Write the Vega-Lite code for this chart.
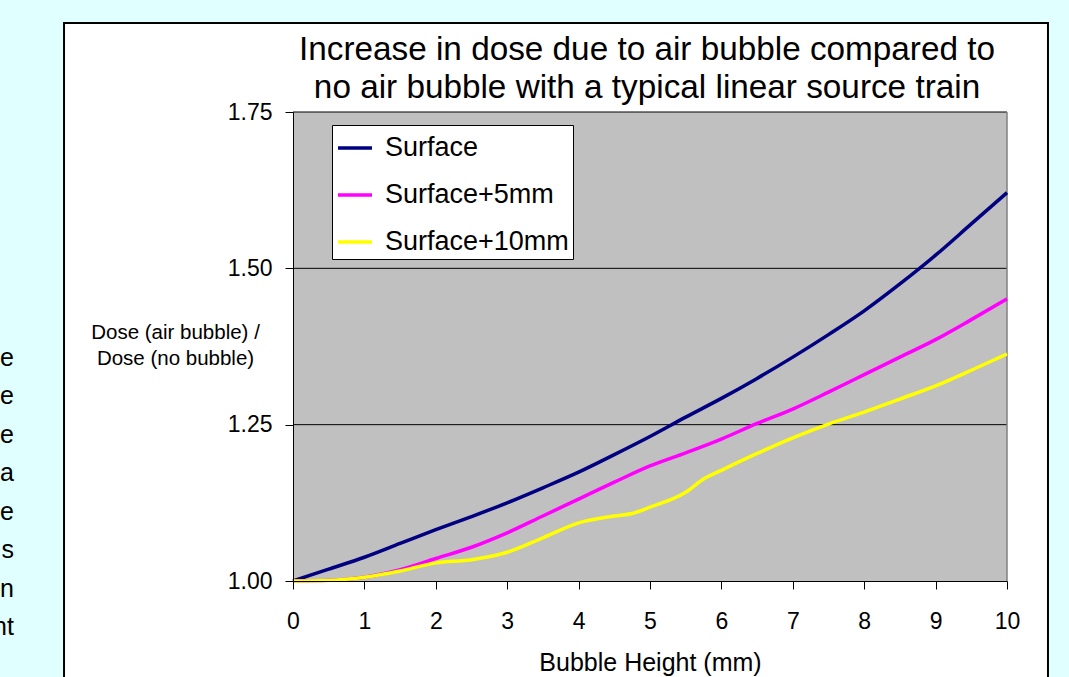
{
  "$schema": "https://vega.github.io/schema/vega-lite/v6.json",
  "width": 714,
  "height": 469,
  "autosize": "none",
  "padding": {"left": 293, "top": 112, "right": 62, "bottom": 96},
  "background": "#E0FFFF",
  "config": {"font": "Liberation Sans", "view": {"stroke": null}},
  "title": {
    "text": ["Increase in dose due to air bubble compared to", "no air bubble with a typical linear source train"],
    "fontSize": 33.3, "fontWeight": "normal", "lineHeight": 38, "color": "black",
    "anchor": "middle", "frame": "group", "baseline": "bottom", "offset": 0, "dx": -3, "dy": 116, "zindex": 1
  },
  "data": {
    "values": [
      {"series": "Surface", "x": 0, "v": 1.000},
      {"series": "Surface", "x": 0.5, "v": 1.019},
      {"series": "Surface", "x": 1, "v": 1.038},
      {"series": "Surface", "x": 1.5, "v": 1.060},
      {"series": "Surface", "x": 2, "v": 1.082},
      {"series": "Surface", "x": 2.5, "v": 1.103},
      {"series": "Surface", "x": 3, "v": 1.125},
      {"series": "Surface", "x": 3.5, "v": 1.149},
      {"series": "Surface", "x": 4, "v": 1.174},
      {"series": "Surface", "x": 4.5, "v": 1.202},
      {"series": "Surface", "x": 5, "v": 1.231},
      {"series": "Surface", "x": 5.5, "v": 1.262},
      {"series": "Surface", "x": 6, "v": 1.292},
      {"series": "Surface", "x": 6.5, "v": 1.324},
      {"series": "Surface", "x": 7, "v": 1.358},
      {"series": "Surface", "x": 7.5, "v": 1.394},
      {"series": "Surface", "x": 8, "v": 1.432},
      {"series": "Surface", "x": 8.5, "v": 1.475},
      {"series": "Surface", "x": 9, "v": 1.521},
      {"series": "Surface", "x": 9.5, "v": 1.571},
      {"series": "Surface", "x": 10, "v": 1.621},
      {"series": "Surface+5mm", "x": 0, "v": 1.000},
      {"series": "Surface+5mm", "x": 0.5, "v": 1.001},
      {"series": "Surface+5mm", "x": 1, "v": 1.006},
      {"series": "Surface+5mm", "x": 1.5, "v": 1.018},
      {"series": "Surface+5mm", "x": 2, "v": 1.036},
      {"series": "Surface+5mm", "x": 2.5, "v": 1.054},
      {"series": "Surface+5mm", "x": 3, "v": 1.077},
      {"series": "Surface+5mm", "x": 3.5, "v": 1.104},
      {"series": "Surface+5mm", "x": 4, "v": 1.131},
      {"series": "Surface+5mm", "x": 4.5, "v": 1.158},
      {"series": "Surface+5mm", "x": 5, "v": 1.184},
      {"series": "Surface+5mm", "x": 5.5, "v": 1.205},
      {"series": "Surface+5mm", "x": 6, "v": 1.227},
      {"series": "Surface+5mm", "x": 6.5, "v": 1.252},
      {"series": "Surface+5mm", "x": 7, "v": 1.275},
      {"series": "Surface+5mm", "x": 7.5, "v": 1.302},
      {"series": "Surface+5mm", "x": 8, "v": 1.330},
      {"series": "Surface+5mm", "x": 8.5, "v": 1.358},
      {"series": "Surface+5mm", "x": 9, "v": 1.386},
      {"series": "Surface+5mm", "x": 9.5, "v": 1.418},
      {"series": "Surface+5mm", "x": 10, "v": 1.451},
      {"series": "Surface+10mm", "x": 0, "v": 1.000},
      {"series": "Surface+10mm", "x": 0.5, "v": 1.001},
      {"series": "Surface+10mm", "x": 1, "v": 1.006},
      {"series": "Surface+10mm", "x": 1.5, "v": 1.016},
      {"series": "Surface+10mm", "x": 2, "v": 1.029},
      {"series": "Surface+10mm", "x": 2.5, "v": 1.034},
      {"series": "Surface+10mm", "x": 3, "v": 1.046},
      {"series": "Surface+10mm", "x": 3.5, "v": 1.069},
      {"series": "Surface+10mm", "x": 4, "v": 1.093},
      {"series": "Surface+10mm", "x": 4.5, "v": 1.104},
      {"series": "Surface+10mm", "x": 4.75, "v": 1.108},
      {"series": "Surface+10mm", "x": 5, "v": 1.118},
      {"series": "Surface+10mm", "x": 5.5, "v": 1.142},
      {"series": "Surface+10mm", "x": 5.75, "v": 1.163},
      {"series": "Surface+10mm", "x": 6, "v": 1.177},
      {"series": "Surface+10mm", "x": 6.5, "v": 1.204},
      {"series": "Surface+10mm", "x": 7, "v": 1.229},
      {"series": "Surface+10mm", "x": 7.5, "v": 1.251},
      {"series": "Surface+10mm", "x": 8, "v": 1.270},
      {"series": "Surface+10mm", "x": 8.5, "v": 1.291},
      {"series": "Surface+10mm", "x": 9, "v": 1.312},
      {"series": "Surface+10mm", "x": 9.5, "v": 1.337},
      {"series": "Surface+10mm", "x": 10, "v": 1.363}
    ]
  },
  "layer": [
    {
      "data": {"values": [{}]},
      "mark": {"type": "rect", "fill": "white", "stroke": "black", "strokeWidth": 2},
      "encoding": {
        "x": {"datum": -3.207, "type": "quantitative",
          "scale": {"domain": [0, 10], "nice": false, "zero": false},
          "axis": {"values": [0, 1, 2, 3, 4, 5, 6, 7, 8, 9, 10], "format": ".0f", "title": "Bubble Height (mm)",
            "titleFontSize": 25, "titleFontWeight": "normal", "titleColor": "black", "titleBaseline": "alphabetic", "titleY": 89,
            "labelFontSize": 23, "labelColor": "black", "labelBaseline": "alphabetic", "labelPadding": 39,
            "labelFlush": false, "labelOverlap": false,
            "tickSize": 8, "tickColor": "black", "domainColor": "black", "grid": false, "zindex": 1}},
        "x2": {"datum": 10.574},
        "y": {"datum": 1.8923, "type": "quantitative",
          "scale": {"domain": [1, 1.75], "nice": false, "zero": false},
          "axis": {"values": [1, 1.25, 1.5, 1.75], "format": ".2f",
            "title": ["Dose (air bubble) /", "Dose (no bubble)"],
            "titleAngle": 0, "titleAlign": "center", "titleBaseline": "alphabetic", "titleX": -118, "titleY": 226,
            "titleFontSize": 20.5, "titleFontWeight": "normal", "titleColor": "black", "titleLineHeight": 26,
            "labelFontSize": 23, "labelColor": "black", "labelPadding": 13, "labelFlush": false, "labelOverlap": false,
            "tickSize": 8, "tickColor": "black", "domainColor": "black", "grid": false, "zindex": 1}},
        "y2": {"datum": 0.8}
      }
    },
    {
      "data": {"values": [{}]},
      "mark": {"type": "rect", "fill": "#C0C0C0"},
      "encoding": {
        "x": {"datum": 0, "type": "quantitative"},
        "x2": {"datum": 10},
        "y": {"datum": 1, "type": "quantitative"},
        "y2": {"datum": 1.75}
      }
    },
    {
      "data": {"values": [{"g": 1.25}, {"g": 1.5}, {"g": 1.75}]},
      "mark": {"type": "rule", "color": "black", "strokeWidth": 1},
      "encoding": {"y": {"field": "g", "type": "quantitative"}}
    },
    {
      "data": {"values": [{}]},
      "mark": {"type": "rule", "color": "#808080", "strokeWidth": 1.5},
      "encoding": {"x": {"datum": 10, "type": "quantitative"}}
    },
    {
      "mark": {"type": "line", "strokeWidth": 3.5, "interpolate": "monotone"},
      "encoding": {
        "x": {"field": "x", "type": "quantitative"},
        "y": {"field": "v", "type": "quantitative"},
        "color": {"field": "series", "type": "nominal",
          "scale": {"domain": ["Surface", "Surface+5mm", "Surface+10mm"], "range": ["#000080", "#FF00FF", "#FFFF00"]},
          "legend": {"orient": "none", "legendX": 39, "legendY": 13, "title": null,
            "fillColor": "white", "strokeColor": "black", "padding": 4, "cornerRadius": 0,
            "symbolType": "stroke", "symbolSize": 1156, "symbolStrokeWidth": 3.5,
            "labelFontSize": 27, "labelColor": "black", "labelOffset": 11, "rowPadding": 15, "labelLimit": 400, "zindex": 1}}
      }
    },
    {
      "data": {"values": [{}]},
      "mark": {"type": "text", "align": "right", "baseline": "alphabetic", "fontSize": 25, "lineHeight": 38.5, "color": "black",
        "text": ["e", "e", "e", "a", "e", "s", "n", "nt"]},
      "encoding": {
        "x": {"datum": -3.908, "type": "quantitative"},
        "y": {"datum": 1.3445, "type": "quantitative"}
      }
    }
  ]
}
